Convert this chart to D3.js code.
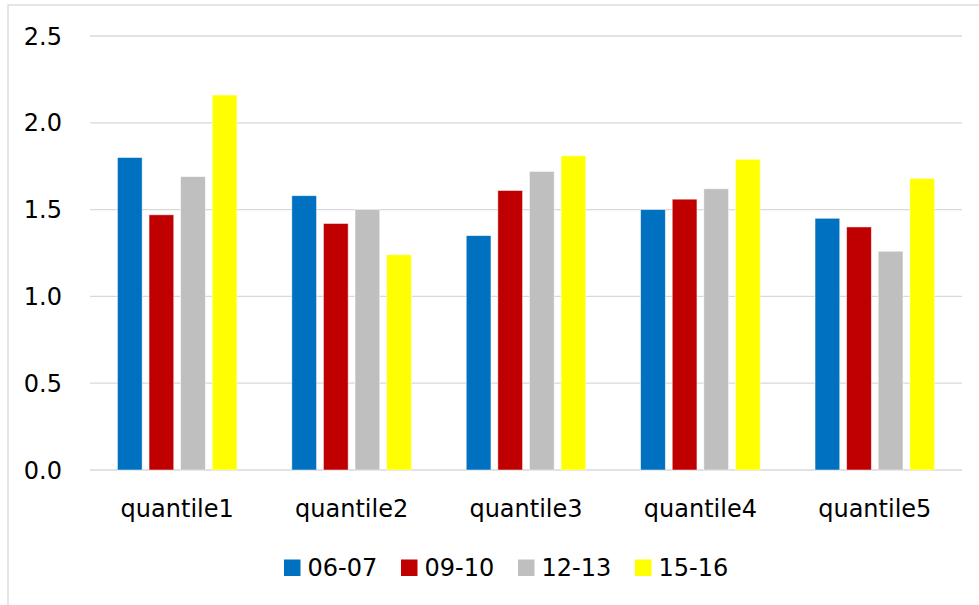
<!DOCTYPE html>
<html>
<head>
<meta charset="utf-8">
<script src="https://cdn.jsdelivr.net/npm/d3@7"></script>
<style>
  html, body { margin: 0; padding: 0; background: #fff; }
  svg { display: block; }
  text { font-family: "DejaVu Sans", sans-serif; fill: #000; }
</style>
</head>
<body>
<svg id="chart" width="979" height="605"></svg>
<script>
// Quantile groups and survey periods
const categories = ["quantile1", "quantile2", "quantile3", "quantile4", "quantile5"];
const seriesNames = ["06-07", "09-10", "12-13", "15-16"];
const seriesColors = ["#0070c0", "#c00000", "#bfbfbf", "#ffff00"];

// One array per period, in category order
const values0607 = [1.80, 1.58, 1.35, 1.50, 1.45];
const values0910 = [1.47, 1.42, 1.61, 1.56, 1.40];
const values1213 = [1.69, 1.50, 1.72, 1.62, 1.26];
const values1516 = [2.16, 1.24, 1.81, 1.79, 1.68];
const seriesValues = [values0607, values0910, values1213, values1516];

const yTicks = [0, 0.5, 1.0, 1.5, 2.0, 2.5];

const svg = d3.select("#chart");

// Chart frame
svg.append("rect")
  .attr("x", 8).attr("y", 5)
  .attr("width", 1000).attr("height", 700)
  .attr("fill", "none")
  .attr("stroke", "#d9d9d9")
  .attr("stroke-width", 1.3);

const plot = { left: 90, right: 962, top: 36, bottom: 470 };

const y = d3.scaleLinear().domain([0, 2.5]).range([plot.bottom, plot.top]);
const x0 = d3.scaleBand().domain(categories).range([plot.left, plot.right]);
const x1 = d3.scaleBand().domain(seriesNames).range([0, x0.bandwidth()])
  .paddingInner(0.218).paddingOuter(0.868);

// Horizontal gridlines
svg.append("g")
  .selectAll("line")
  .data(yTicks)
  .join("line")
  .attr("x1", plot.left).attr("x2", plot.right)
  .attr("y1", d => y(d)).attr("y2", d => y(d))
  .attr("stroke", "#d9d9d9")
  .attr("stroke-width", 1.3);

// Value axis labels
svg.append("g")
  .selectAll("text")
  .data(yTicks)
  .join("text")
  .attr("x", 62)
  .attr("y", d => y(d))
  .attr("dy", "0.36em")
  .attr("text-anchor", "end")
  .attr("font-size", 24)
  .text(d => d3.format(".1f")(d));

// Bars
const rows = [];
categories.forEach((c, i) => {
  seriesNames.forEach((s, j) => rows.push({ cat: c, series: s, value: seriesValues[j][i], color: seriesColors[j] }));
});

svg.append("g")
  .selectAll("rect")
  .data(rows)
  .join("rect")
  .attr("x", d => x0(d.cat) + x1(d.series))
  .attr("y", d => y(d.value))
  .attr("width", x1.bandwidth())
  .attr("height", d => y(0) - y(d.value))
  .attr("fill", d => d.color)
  .attr("stroke", "#ffffff")
  .attr("stroke-opacity", 0.6)
  .attr("stroke-width", 0.8);

// Category labels
svg.append("g")
  .selectAll("text")
  .data(categories)
  .join("text")
  .attr("x", d => x0(d) + x0.bandwidth() / 2)
  .attr("y", 517)
  .attr("text-anchor", "middle")
  .attr("font-size", 24)
  .text(d => d);

// Legend
const legend = svg.append("g").attr("transform", "translate(284,0)");
const item = legend.selectAll("g")
  .data(seriesNames)
  .join("g")
  .attr("transform", (d, i) => `translate(${i * 117},0)`);
item.append("rect")
  .attr("x", 0).attr("y", 559.5)
  .attr("width", 16.5).attr("height", 16.5)
  .attr("fill", (d, i) => seriesColors[i]);
item.append("text")
  .attr("x", 23.5).attr("y", 576)
  .attr("font-size", 24)
  .text(d => d);
</script>
</body>
</html>
